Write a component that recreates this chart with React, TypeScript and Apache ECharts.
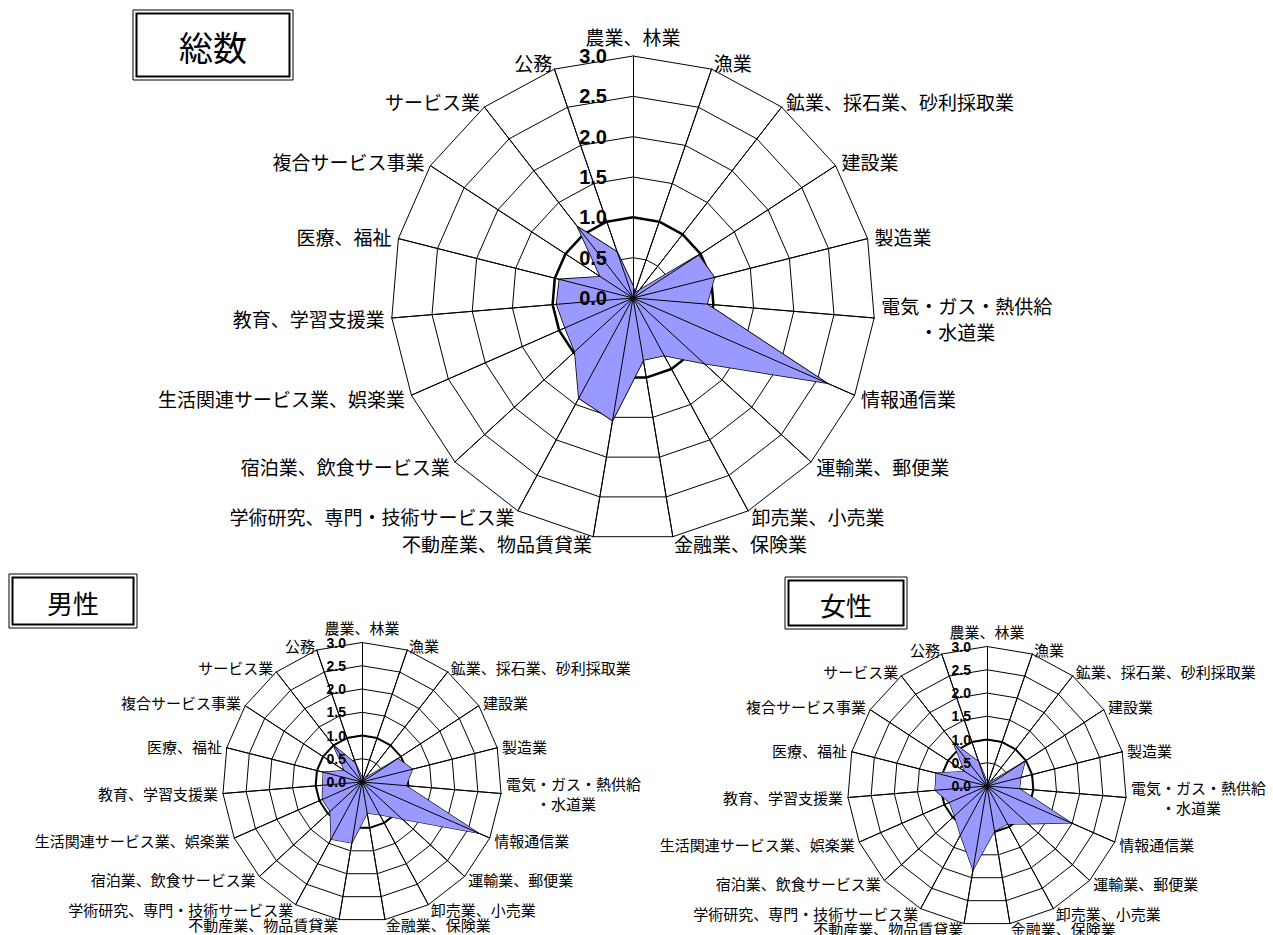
import React, { useEffect, useRef } from "react";
import * as echarts from "echarts";

const categories = [
  "農業、林業",
  "漁業",
  "鉱業、採石業、砂利採取業",
  "建設業",
  "製造業",
  "電気・ガス・熱供給・水道業",
  "情報通信業",
  "運輸業、郵便業",
  "卸売業、小売業",
  "金融業、保険業",
  "不動産業、物品賃貸業",
  "学術研究、専門・技術サービス業",
  "宿泊業、飲食サービス業",
  "生活関連サービス業、娯楽業",
  "教育、学習支援業",
  "医療、福祉",
  "複合サービス事業",
  "サービス業",
  "公務",
];

const totalValues = [0.15, 0.07, 0.12, 0.97, 1.04, 0.92, 2.62, 1.2, 0.81, 0.78, 1.54, 1.41, 0.98, 0.92, 0.95, 0.94, 0.48, 1.12, 0.6];
const maleValues = [0.1, 0.05, 0.1, 0.92, 1.12, 0.95, 2.74, 1.18, 0.8, 0.68, 1.33, 1.4, 0.93, 0.93, 0.85, 0.86, 0.45, 1.01, 0.42];
const femaleValues = [0.1, 0.05, 0.1, 0.98, 0.75, 0.7, 1.98, 1.2, 0.93, 0.98, 1.83, 1.2, 0.95, 0.88, 1.12, 1.13, 0.57, 1.18, 0.55];
const baselineValues = [1, 1, 1, 1, 1, 1, 1, 1, 1, 1, 1, 1, 1, 1, 1, 1, 1, 1, 1];

const axisMin = 0;
const axisMax = 3;
const axisSplits = 6;
const tickLabels = ["0.0", "0.5", "1.0", "1.5", "2.0", "2.5", "3.0"];

const titles = ["総数", "男性", "女性"];

const JP = '"Noto Sans CJK JP", sans-serif';

// ECharts radar runs counter-clockwise; list the first category then the rest in reverse to draw clockwise.
const order = categories.map((_, i) => (i === 0 ? 0 : categories.length - i));
const reorder = <T,>(arr: T[]) => order.map((i) => arr[i]);

type ChartSpec = {
  center: [number, number];
  radius: number;
  nameSize: number;
  lineHeight: number;
  nameGap: number;
  labelSize: number;
  labelMargin: number;
  values: number[];
  ringWidth: number;
  edgeWidth: number;
};

const specs: ChartSpec[] = [
  { center: [633, 298], radius: 242, nameSize: 19, lineHeight: 26, nameGap: 7, labelSize: 20, labelMargin: 26, values: totalValues, ringWidth: 2.5, edgeWidth: 1.6 },
  { center: [362, 782], radius: 139.5, nameSize: 15, lineHeight: 20, nameGap: 5, labelSize: 14, labelMargin: 16, values: maleValues, ringWidth: 2, edgeWidth: 1.2 },
  { center: [987, 786], radius: 139.5, nameSize: 15, lineHeight: 20, nameGap: 5, labelSize: 14, labelMargin: 16, values: femaleValues, ringWidth: 2, edgeWidth: 1.2 },
];

function nameFormatter(name: string) {
  if (name === "電気・ガス・熱供給・水道業") return "電気・ガス・熱供給\n　　・水道業";
  return name;
}

function buildOption() {
  const radars: any[] = [];
  const series: any[] = [];
  const cats = reorder(categories);
  specs.forEach((s, k) => {
    radars.push({
      center: s.center,
      radius: s.radius,
      startAngle: 90,
      shape: "polygon",
      splitNumber: axisSplits,
      z: 0,
      nameGap: s.nameGap,
      indicator: cats.map((c) => ({ name: c, min: axisMin, max: axisMax })),
      axisName: {
        color: "#000",
        fontSize: s.nameSize,
        lineHeight: s.lineHeight,
        fontFamily: JP,
        formatter: nameFormatter,
      },
      splitLine: { lineStyle: { color: "#000", width: 1 } },
      splitArea: { show: false },
      axisLine: { lineStyle: { color: "#000", width: 1 } },
      axisTick: { show: false },
      axisLabel: { show: false },
    });
    radars.push({
      center: s.center,
      radius: s.radius,
      startAngle: 90,
      shape: "polygon",
      splitNumber: axisSplits,
      z: 5,
      indicator: cats.map((c, i) => {
        const ind: any = { name: c, min: axisMin, max: axisMax };
        if (i === 0) {
          ind.axisLabel = {
            show: true,
            color: "#000",
            fontSize: s.labelSize,
            fontWeight: "bold",
            fontFamily: "Arial, sans-serif",
            margin: s.labelMargin,
            formatter: (v: number) => tickLabels[Math.round(((v - axisMin) / (axisMax - axisMin)) * axisSplits)] ?? String(v),
          };
        }
        return ind;
      }),
      axisName: { show: false },
      splitLine: { show: false },
      splitArea: { show: false },
      axisLine: { lineStyle: { color: "#000", width: 1 } },
      axisTick: { show: false },
      axisLabel: { show: false },
    });
    series.push({
      type: "radar",
      radarIndex: 2 * k,
      symbol: "none",
      silent: true,
      data: [
        {
          value: reorder(baselineValues),
          lineStyle: { color: "#000", width: s.ringWidth },
        },
        {
          value: reorder(s.values),
          lineStyle: { color: "#000", width: s.edgeWidth },
          areaStyle: { color: "#9999ff", opacity: 1 },
        },
      ],
    });
  });

  const box = (x: number, y: number, w: number, h: number, text: string, size: number) => ({
    type: "group",
    children: [
      { type: "rect", shape: { x, y, width: w, height: h }, style: { fill: "#fff", stroke: "#000", lineWidth: 1 } },
      { type: "rect", shape: { x: x + 3.5, y: y + 3.5, width: w - 7, height: h - 7 }, style: { fill: "none", stroke: "#000", lineWidth: 2 } },
      {
        type: "text",
        x: x + w / 2,
        y: y + h / 2 + 1,
        style: { text, fontSize: size, fontFamily: JP, fill: "#000", align: "center", verticalAlign: "middle" },
      },
    ],
  });

  return {
    animation: false,
    backgroundColor: "#fff",
    radar: radars,
    series,
    graphic: [
      box(133, 10, 160, 70, titles[0], 34),
      box(9, 574, 128, 54, titles[1], 26),
      box(785, 577, 122, 52, titles[2], 26),
    ],
  };
}

export default function App() {
  const ref = useRef<HTMLDivElement>(null);
  useEffect(() => {
    document.body.style.margin = "0";
    const chart = echarts.init(ref.current!, undefined, { renderer: "svg" });
    chart.setOption(buildOption() as any);
    return () => chart.dispose();
  }, []);
  return <div ref={ref} style={{ width: 1273, height: 935 }} />;
}
